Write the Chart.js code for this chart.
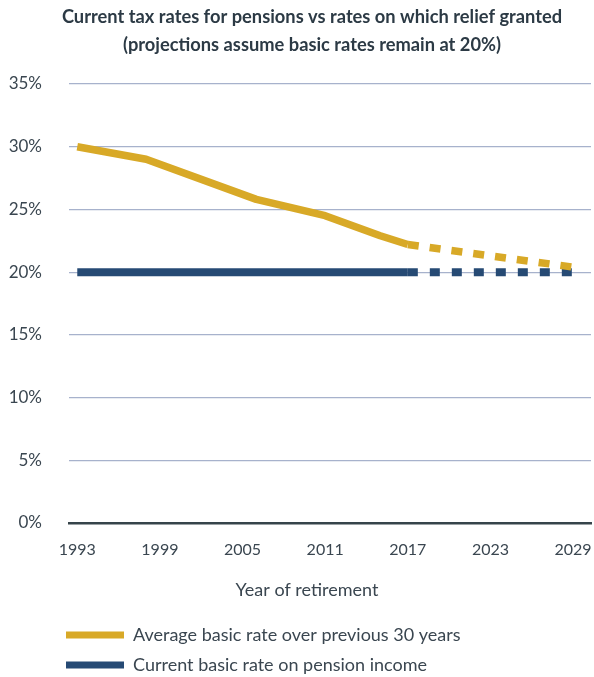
<!DOCTYPE html>
<html>
<head>
<meta charset="utf-8">
<script src="https://cdn.jsdelivr.net/npm/chart.js@4"></script>
<style>
  html, body { margin: 0; padding: 0; background: #ffffff; }
  #wrap { width: 594px; height: 677px; position: relative; }
</style>
</head>
<body>
<div id="wrap"><canvas id="chart" width="594" height="677"></canvas></div>
<script>
// Average basic rate over the previous 30 years (historic part)
const avgYears = [1993, 1998, 2006, 2011, 2015, 2017];
const avgRate = [30.0, 29.0, 25.8, 24.5, 22.9, 22.2];
// Projection of the average, assuming the basic rate stays at 20%
const avgProjYears = [2017, 2023, 2029];
const avgProjRate = [22.2, 21.3, 20.4];
// Current basic rate on pension income
const curYears = [1993, 2017];
const curRate = [20, 20];
const curProjYears = [2017, 2029];
const curProjRate = [20, 20];

const yearTicks = [1993, 1999, 2005, 2011, 2017, 2023, 2029];
const rateTicks = [0, 5, 10, 15, 20, 25, 30, 35];

const titleLines = [
  'Current tax rates for pensions vs rates on which relief granted',
  '(projections assume basic rates remain at 20%)'
];
const xTitle = 'Year of retirement';
const seriesNames = ['Average basic rate over previous 30 years', 'Current basic rate on pension income'];

const GOLD = '#d8a927';
const NAVY = '#264a74';
const TEXT = '#3a4650';
const FONT = 'Lato, "Open Sans", sans-serif';

const pts = (xs, ys) => xs.map((x, i) => ({ x: x, y: ys[i] }));

// Title, x-axis caption and legend drawn on the canvas
const decorations = {
  id: 'decorations',
  afterDraw(chart) {
    const ctx = chart.ctx;
    ctx.save();
    ctx.fillStyle = '#2c3a45';
    ctx.font = 'bold 18.3px ' + FONT;
    ctx.textAlign = 'center';
    ctx.textBaseline = 'middle';
    ctx.fillText(titleLines[0], 312, 17);
    ctx.fillText(titleLines[1], 312, 45);

    ctx.fillStyle = TEXT;
    ctx.font = '18px ' + FONT;
    ctx.fillText(xTitle, 307, 590);

    const colors = [GOLD, NAVY];
    ctx.textAlign = 'left';
    seriesNames.forEach((name, i) => {
      const y = 635 + i * 30;
      ctx.fillStyle = colors[i];
      ctx.fillRect(66, y - 3.5, 58, 7);
      ctx.fillStyle = TEXT;
      ctx.fillText(name, 133, y);
    });
    ctx.restore();
  }
};

new Chart(document.getElementById('chart'), {
  type: 'line',
  data: {
    datasets: [
      { label: seriesNames[0], data: pts(avgYears, avgRate), borderColor: GOLD, borderWidth: 7.5 },
      { label: seriesNames[0] + ' (projected)', data: pts(avgProjYears, avgProjRate), borderColor: GOLD, borderWidth: 7.5, borderDash: [11, 11] },
      { label: seriesNames[1], data: pts(curYears, curRate), borderColor: NAVY, borderWidth: 8 },
      { label: seriesNames[1] + ' (projected)', data: pts(curProjYears, curProjRate), borderColor: NAVY, borderWidth: 8, borderDash: [10, 12] }
    ]
  },
  options: {
    responsive: false,
    animation: false,
    layout: { padding: { left: 0, right: 3, top: 84, bottom: 77 } },
    elements: {
      point: { radius: 0 },
      line: { tension: 0, borderJoinStyle: 'round', borderCapStyle: 'butt', fill: false }
    },
    plugins: {
      legend: { display: false },
      title: { display: false },
      tooltip: { enabled: false }
    },
    scales: {
      x: {
        type: 'linear',
        min: 1992.4,
        max: 2030.3,
        afterBuildTicks: (scale) => { scale.ticks = yearTicks.map(v => ({ value: v })); },
        afterFit: (scale) => { scale.height = 77; scale.paddingLeft = 0; scale.paddingRight = 0; },
        grid: { display: false, drawTicks: false },
        border: { display: true, color: '#36444a', width: 2.5 },
        ticks: {
          padding: 17,
          color: TEXT,
          font: { family: FONT, size: 16 },
          maxRotation: 0,
          callback: (v) => String(v)
        }
      },
      y: {
        min: 0,
        max: 35,
        afterBuildTicks: (scale) => { scale.ticks = rateTicks.map(v => ({ value: v })); },
        afterFit: (scale) => { scale.width = 69; scale.paddingTop = 0; scale.paddingBottom = 0; },
        grid: {
          drawTicks: false,
          color: (c) => c.tick && c.tick.value === 0 ? 'rgba(0,0,0,0)' : '#a7b2cc',
          lineWidth: 1.2
        },
        border: { display: false },
        ticks: {
          padding: 27,
          color: TEXT,
          font: { family: FONT, size: 17 },
          callback: (v) => v + '%'
        }
      }
    }
  },
  plugins: [decorations]
});
</script>
</body>
</html>
